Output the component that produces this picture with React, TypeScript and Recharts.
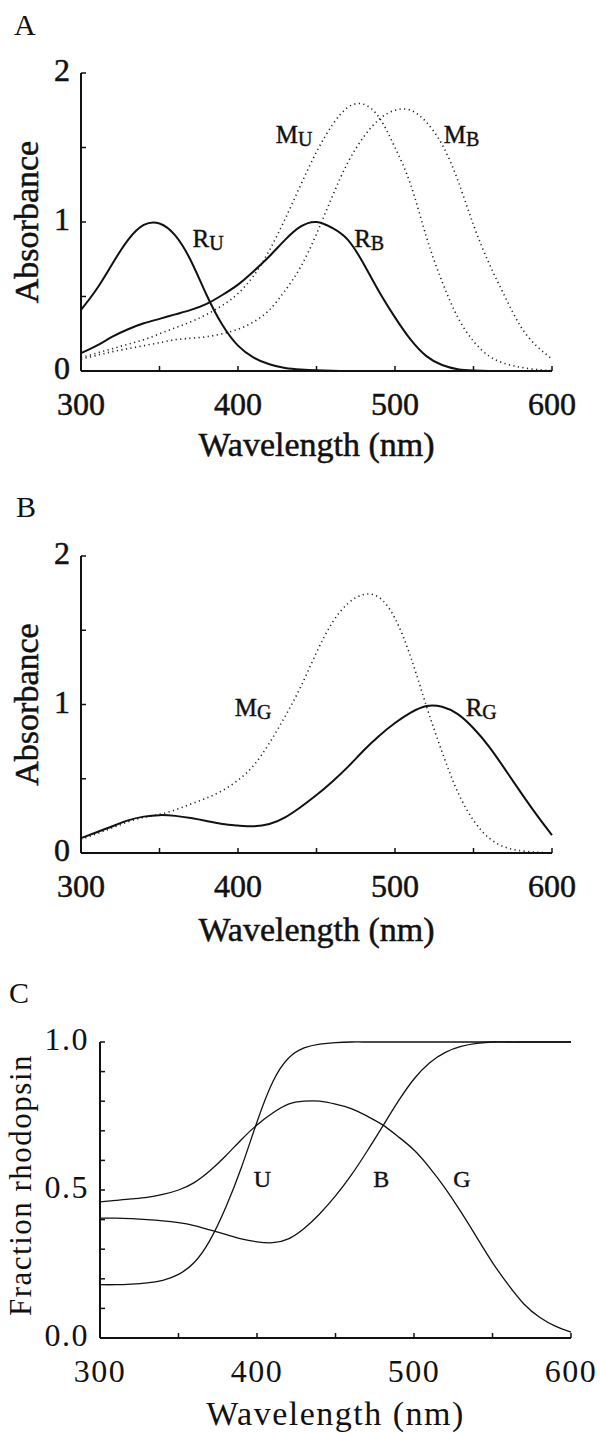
import React from "react";
import { LineChart, Line, XAxis, YAxis, ReferenceDot, Label } from "recharts";

const SERIF = "'Liberation Serif', 'Times New Roman', serif";
const INK = "#111";

// wavelength grid shared by all panels (nm)
const WAVELENGTH = [
  300, 310, 320, 330, 340, 350, 360, 370, 380, 390, 400, 410, 420, 430, 440, 450,
  460, 470, 480, 490, 500, 510, 520, 530, 540, 550, 560, 570, 580, 590, 600,
];
const X_TICKS = [300, 350, 400, 450, 500, 550, 600];

// ── Panel A: absorbance, UV and blue pigments ──
const R_U = [
  0.41, 0.55, 0.72, 0.88, 0.98, 0.99, 0.91, 0.74, 0.51, 0.31, 0.17, 0.09, 0.045, 0.02, 0.01, 0.005,
  0.002, 0, 0, 0, 0, 0, 0, 0, 0, 0, 0, 0, 0, 0, 0,
];
const R_B = [
  0.12, 0.17, 0.23, 0.28, 0.32, 0.35, 0.38, 0.41, 0.45, 0.51, 0.58, 0.67, 0.77, 0.88, 0.97, 1.0,
  0.96, 0.88, 0.72, 0.53, 0.36, 0.21, 0.1, 0.04, 0.012, 0.003, 0, 0, 0, 0, 0,
];
const M_U = [
  0.09, 0.12, 0.15, 0.18, 0.21, 0.25, 0.29, 0.33, 0.38, 0.44, 0.52, 0.64, 0.81, 1.02, 1.25, 1.47,
  1.65, 1.77, 1.79, 1.7, 1.5, 1.25, 0.9, 0.6, 0.36, 0.2, 0.1, 0.05, 0.025, 0.01, 0.003,
];
const M_B = [
  0.08, 0.105, 0.13, 0.15, 0.17, 0.19, 0.21, 0.22, 0.23, 0.25, 0.28, 0.33, 0.41, 0.54, 0.7, 0.92,
  1.17, 1.4, 1.57, 1.69, 1.75, 1.75, 1.67, 1.52, 1.28, 0.98, 0.72, 0.5, 0.3, 0.17, 0.08,
];

// ── Panel B: absorbance, green pigment ──
const R_G = [
  0.1, 0.14, 0.18, 0.22, 0.245, 0.255, 0.25, 0.235, 0.215, 0.195, 0.185, 0.18, 0.195, 0.24, 0.31, 0.39,
  0.48, 0.58, 0.69, 0.79, 0.875, 0.945, 0.99, 0.985, 0.935, 0.84, 0.715, 0.565, 0.41, 0.26, 0.12,
];
const M_G = [
  0.09, 0.13, 0.17, 0.21, 0.24, 0.26, 0.29, 0.33, 0.37, 0.42, 0.49, 0.59, 0.74, 0.92, 1.12, 1.35,
  1.55, 1.68, 1.74, 1.72, 1.58, 1.32, 0.99, 0.68, 0.41, 0.22, 0.1, 0.04, 0.015, 0.005, 0,
];

// ── Panel C: fraction rhodopsin ──
const FR_U = [
  0.18, 0.18, 0.182, 0.186, 0.195, 0.215, 0.255, 0.33, 0.44, 0.575, 0.73, 0.865, 0.945, 0.98, 0.993, 0.998,
  1.0, 1.0, 1.0, 1.0, 1.0, 1.0, 1.0, 1.0, 1.0, 1.0, 1.0, 1.0, 1.0, 1.0, 1.0,
];
const FR_B = [
  0.405, 0.405, 0.403, 0.4, 0.396, 0.39, 0.38, 0.365, 0.35, 0.335, 0.325, 0.322, 0.335, 0.37, 0.42, 0.48,
  0.55, 0.63, 0.715, 0.8, 0.875, 0.93, 0.965, 0.985, 0.995, 1.0, 1.0, 1.0, 1.0, 1.0, 1.0,
];
const FR_G = [
  0.46, 0.465, 0.47, 0.475, 0.485, 0.5, 0.525, 0.565, 0.615, 0.67, 0.72, 0.76, 0.79, 0.8, 0.8, 0.79,
  0.775, 0.75, 0.72, 0.68, 0.635, 0.575, 0.505, 0.425, 0.34, 0.255, 0.18, 0.115, 0.07, 0.04, 0.02,
];

// curve labels, anchored in data units (wavelength, value)
const LABELS_A = [
  { x: 424, y: 1.53, main: "M", sub: "U" },
  { x: 531, y: 1.53, main: "M", sub: "B" },
  { x: 371, y: 0.83, main: "R", sub: "U" },
  { x: 474, y: 0.83, main: "R", sub: "B" },
];
const LABELS_B = [
  { x: 398, y: 0.92, main: "M", sub: "G" },
  { x: 545, y: 0.92, main: "R", sub: "G" },
];
const LABELS_C = [
  { x: 398, y: 0.51, main: "U", sub: "" },
  { x: 474, y: 0.51, main: "B", sub: "" },
  { x: 525, y: 0.51, main: "G", sub: "" },
];

const dataA = WAVELENGTH.map((w, i) => ({ w, ru: R_U[i], rb: R_B[i], mu: M_U[i], mb: M_B[i] }));
const dataB = WAVELENGTH.map((w, i) => ({ w, rg: R_G[i], mg: M_G[i] }));
const dataC = WAVELENGTH.map((w, i) => ({ w, u: FR_U[i], b: FR_B[i], g: FR_G[i] }));

// heavier scanned look for panels A and B
const HEAVY = { stroke: INK, strokeWidth: 0.5 };
const LIGHT = { stroke: "none" };

function makeXTick(labelDy: number, spacing = 0, weight: any = HEAVY) {
  return (props: any) => {
    const { x, y, payload } = props;
    const v = payload.value;
    return (
      <g>
        <line x1={x} x2={x} y1={y} y2={y - 5} stroke={INK} strokeWidth={1.5} />
        {v % 100 === 0 && (
          <text x={x} y={y + labelDy} textAnchor="middle" fontFamily={SERIF} fontSize={32}
            letterSpacing={spacing} fill={INK} {...weight}>
            {v}
          </text>
        )}
      </g>
    );
  };
}

function makeYTick(isMajor: (v: number) => boolean, fmt: (v: number) => string, spacing = 0, weight: any = HEAVY) {
  return (props: any) => {
    const { x, y, payload } = props;
    const v = payload.value;
    return (
      <g>
        <line x1={x} x2={x + 5} y1={y} y2={y} stroke={INK} strokeWidth={1.5} />
        {isMajor(v) && (
          <text x={x - 11} y={y + 8} textAnchor="end" fontFamily={SERIF} fontSize={32}
            letterSpacing={spacing} fill={INK} {...weight}>
            {fmt(v)}
          </text>
        )}
      </g>
    );
  };
}

function xTitle(dy: number, spacing = 0, weight: any = HEAVY) {
  return (p: any) => {
    const vb = p.viewBox;
    return (
      <text x={vb.x + vb.width / 2} y={vb.y + dy} textAnchor="middle" fontFamily={SERIF}
        fontSize={34} letterSpacing={spacing} fill={INK} {...weight}>
        Wavelength (nm)
      </text>
    );
  };
}

function yTitle(text: string, bx: number, dyc: number, size: number, spacing = 0, weight: any = HEAVY) {
  return (p: any) => {
    const vb = p.viewBox;
    const cx = vb.x + bx;
    const cy = vb.y + vb.height / 2 + dyc;
    return (
      <text x={cx} y={cy} transform={`rotate(-90, ${cx}, ${cy})`} textAnchor="middle"
        fontFamily={SERIF} fontSize={size} letterSpacing={spacing} fill={INK} {...weight}>
        {text}
      </text>
    );
  };
}

function curveLabel(main: string, sub: string, size: number) {
  return (p: any) => (
    <text x={p.cx} y={p.cy} fontFamily={SERIF} fontSize={size} fill={INK} stroke={INK} strokeWidth={0.4}>
      <tspan>{main}</tspan>
      {sub && (
        <tspan fontSize={size * 0.8} dy={3}>
          {sub}
        </tspan>
      )}
    </text>
  );
}

const solid = { stroke: INK, strokeWidth: 2, dot: false, isAnimationActive: false, type: "natural" as const };
const dotted = {
  stroke: "#222",
  strokeWidth: 1.6,
  strokeDasharray: "1.2 3.4",
  dot: false,
  isAnimationActive: false,
  type: "natural" as const,
};

function PanelLetter({ text, top, left }: { text: string; top: number; left: number }) {
  return (
    <div style={{ position: "absolute", top, left, fontFamily: SERIF, fontSize: 30, lineHeight: "30px", color: INK }}>
      {text}
    </div>
  );
}

export default function App() {
  return (
    <div style={{ position: "absolute", left: 0, top: 0, width: 600, height: 1433, background: "#fff" }}>
      <PanelLetter text="A" top={10} left={14} />
      <PanelLetter text="B" top={492} left={16} />
      <PanelLetter text="C" top={978} left={9} />

      {/* A */}
      <div style={{ position: "absolute", left: 0, top: 0 }}>
        <LineChart width={600} height={480} data={dataA} margin={{ top: 73, right: 48, left: 0, bottom: 9 }}>
          <XAxis dataKey="w" type="number" domain={[300, 600]} ticks={X_TICKS} interval={0} height={100}
            tickSize={0} tickMargin={0} tickLine={false} axisLine={{ stroke: INK, strokeWidth: 2 }}
            tick={makeXTick(44)}>
            <Label content={xTitle(85)} />
          </XAxis>
          <YAxis type="number" domain={[0, 2]} ticks={[0, 0.5, 1, 1.5, 2]} interval={0} width={81}
            tickSize={0} tickMargin={0} tickLine={false} axisLine={{ stroke: INK, strokeWidth: 2 }}
            tick={makeYTick((v) => Number.isInteger(v), (v) => String(v))}>
            <Label content={yTitle("Absorbance", 38, 0, 34)} />
          </YAxis>
          <Line dataKey="mu" {...dotted} />
          <Line dataKey="mb" {...dotted} />
          <Line dataKey="ru" {...solid} />
          <Line dataKey="rb" {...solid} />
          {LABELS_A.map((l) => (
            <ReferenceDot key={l.main + l.sub} x={l.x} y={l.y} r={0} ifOverflow="visible"
              shape={curveLabel(l.main, l.sub, 25)} />
          ))}
        </LineChart>
      </div>

      {/* B */}
      <div style={{ position: "absolute", left: 0, top: 480 }}>
        <LineChart width={600} height={470} data={dataB} margin={{ top: 76, right: 48, left: 0, bottom: 7 }}>
          <XAxis dataKey="w" type="number" domain={[300, 600]} ticks={X_TICKS} interval={0} height={90}
            tickSize={0} tickMargin={0} tickLine={false} axisLine={{ stroke: INK, strokeWidth: 2 }}
            tick={makeXTick(44)}>
            <Label content={xTitle(88)} />
          </XAxis>
          <YAxis type="number" domain={[0, 2]} ticks={[0, 0.5, 1, 1.5, 2]} interval={0} width={81}
            tickSize={0} tickMargin={0} tickLine={false} axisLine={{ stroke: INK, strokeWidth: 2 }}
            tick={makeYTick((v) => Number.isInteger(v), (v) => String(v))}>
            <Label content={yTitle("Absorbance", 38, 0, 34)} />
          </YAxis>
          <Line dataKey="mg" {...dotted} />
          <Line dataKey="rg" {...solid} />
          {LABELS_B.map((l) => (
            <ReferenceDot key={l.main + l.sub} x={l.x} y={l.y} r={0} ifOverflow="visible"
              shape={curveLabel(l.main, l.sub, 25)} />
          ))}
        </LineChart>
      </div>

      {/* C */}
      <div style={{ position: "absolute", left: 0, top: 950 }}>
        <LineChart width={600} height={483} data={dataC} margin={{ top: 92, right: 29, left: 0, bottom: 5 }}>
          <XAxis dataKey="w" type="number" domain={[300, 600]} ticks={X_TICKS} interval={0} height={90}
            tickSize={0} tickMargin={0} tickLine={false} axisLine={{ stroke: INK, strokeWidth: 2 }}
            tick={makeXTick(44, 1.5, LIGHT)}>
            <Label content={xTitle(87, 1.5, LIGHT)} />
          </XAxis>
          <YAxis type="number" domain={[0, 1]}
            ticks={[0, 0.1, 0.2, 0.3, 0.4, 0.5, 0.6, 0.7, 0.8, 0.9, 1]} interval={0} width={100}
            tickSize={0} tickMargin={0} tickLine={false} axisLine={{ stroke: INK, strokeWidth: 2 }}
            tick={makeYTick((v) => Math.abs(v * 2 - Math.round(v * 2)) < 1e-6, (v) => v.toFixed(1), 1.5, LIGHT)}>
            <Label content={yTitle("Fraction rhodopsin", 31, -5, 31, 1.5, LIGHT)} />
          </YAxis>
          <Line dataKey="u" {...solid} strokeWidth={1.3} />
          <Line dataKey="b" {...solid} strokeWidth={1.3} />
          <Line dataKey="g" {...solid} strokeWidth={1.3} />
          {LABELS_C.map((l) => (
            <ReferenceDot key={l.main} x={l.x} y={l.y} r={0} ifOverflow="visible"
              shape={curveLabel(l.main, l.sub, 24)} />
          ))}
        </LineChart>
      </div>
    </div>
  );
}
